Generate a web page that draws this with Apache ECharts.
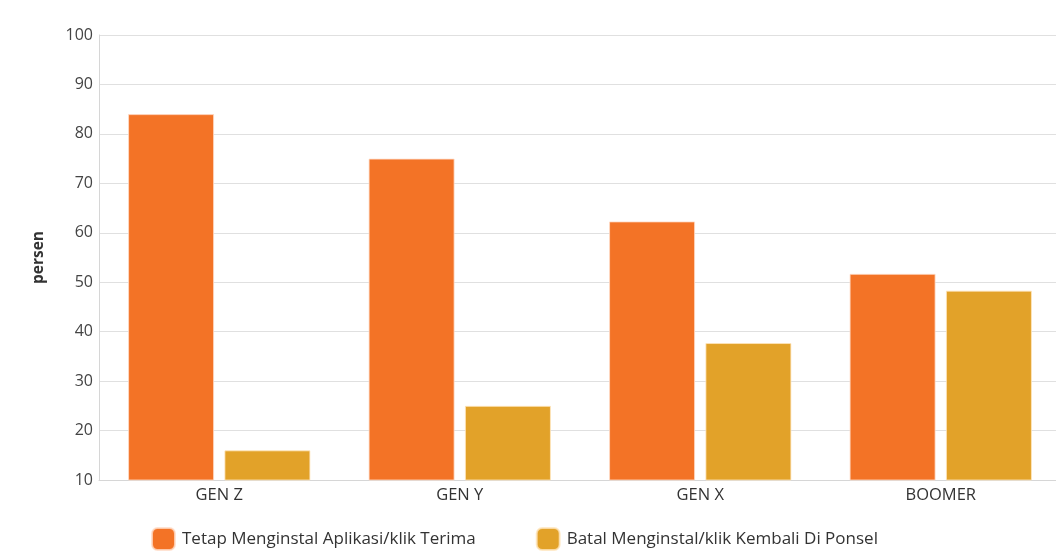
<!DOCTYPE html>
<html>
<head>
<meta charset="utf-8">
<script src="https://cdn.jsdelivr.net/npm/echarts@6/dist/echarts.min.js"></script>
<style>html,body{margin:0;padding:0;background:#fff;overflow:hidden}#c{width:1061px;height:557px}</style>
</head>
<body>
<div id="c"></div>
<script>
var categories = ['GEN Z', 'GEN Y', 'GEN X', 'BOOMER'];
var seriesNames = ['Tetap Menginstal Aplikasi/klik Terima', 'Batal Menginstal/klik Kembali Di Ponsel'];
var tetapValues = [84, 75, 62.3, 51.7];
var batalValues = [16, 25, 37.7, 48.3];
var yTicks = [10, 20, 30, 40, 50, 60, 70, 80, 90, 100];

var chart = echarts.init(document.getElementById('c'));
var font = '"Open Sans", "Noto Sans", sans-serif';
chart.setOption({
  animation: false,
  color: ['#f37326', '#e2a229'],
  textStyle: {fontFamily: font},
  grid: {left: 99, top: 35, right: 0, height: 445},
  legend: {
    bottom: 1, left: 146,
    itemWidth: 23, itemHeight: 22, itemGap: 60,
    icon: 'roundRect',
    textStyle: {fontSize: 17, color: '#333', fontFamily: font, padding: [0, 0, 0, 2]},
    data: seriesNames
  },
  xAxis: {
    type: 'category', data: categories,
    axisLine: {lineStyle: {color: '#d6d6d6'}},
    axisTick: {show: false},
    axisLabel: {fontSize: 16.5, color: '#333', margin: 7, fontFamily: font}
  },
  yAxis: {
    type: 'value', min: yTicks[0], max: yTicks[yTicks.length - 1], interval: 10,
    name: 'persen', nameLocation: 'middle', nameRotate: 90, nameGap: 52,
    nameTextStyle: {fontSize: 15.5, fontWeight: 'bold', color: '#333', fontFamily: font},
    axisLine: {show: true, lineStyle: {color: '#d6d6d6'}},
    axisTick: {show: false},
    axisLabel: {fontSize: 16, color: '#444', margin: 6, fontFamily: font},
    splitLine: {lineStyle: {color: '#e0e0e0'}}
  },
  series: [
    {name: seriesNames[0], type: 'bar', data: tetapValues, barWidth: 86, barGap: '12%',
     itemStyle: {borderColor: 'rgba(255,220,200,0.8)', borderWidth: 1}},
    {name: seriesNames[1], type: 'bar', data: batalValues, barWidth: 86, barGap: '12%',
     itemStyle: {borderColor: 'rgba(255,230,190,0.8)', borderWidth: 1}}
  ]
});
</script>
</body>
</html>
